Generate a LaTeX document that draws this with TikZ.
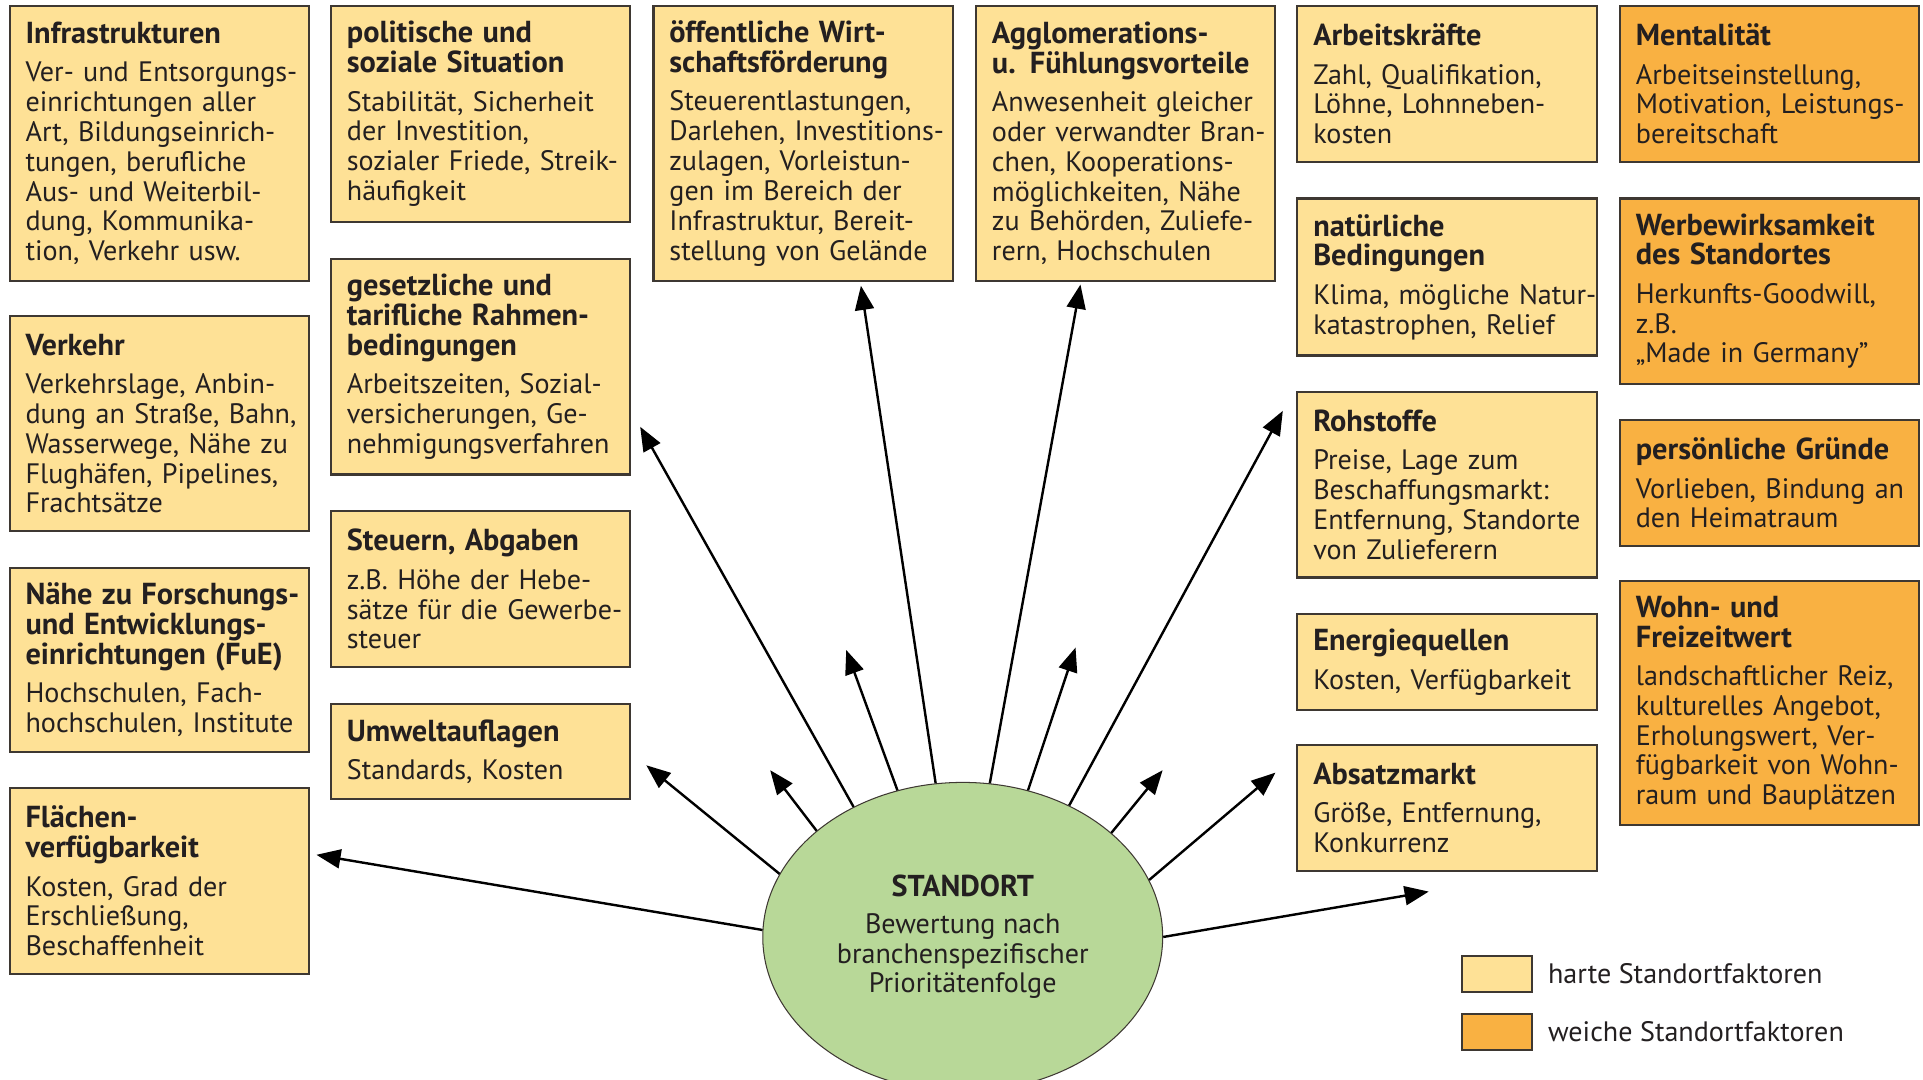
\documentclass[tikz,border=0pt]{standalone}
\usepackage{fontspec}
\setmainfont{PT Sans}
\usetikzlibrary{arrows.meta,shapes.geometric}
\definecolor{hardfill}{RGB}{254,225,150}
\definecolor{softfill}{RGB}{249,177,66}
\definecolor{stdgreen}{RGB}{184,216,152}
\definecolor{boxline}{RGB}{62,56,50}
\definecolor{inktext}{RGB}{35,31,32}

\begin{document}
\begin{tikzpicture}[x=0.025cm,y=-0.025cm,>=Triangle,
  font=\fontsize{16.3}{17.3}\selectfont,text=inktext]

% canvas
\clip (0,0) rectangle (1568,880);
\fill[white] (0,0) rectangle (1568,880);

\tikzset{
  factor/.style={
    draw=boxline,
    line width=1.2pt,
    anchor=north west,
    minimum width=6.1cm,
    text width=5.45cm,
    inner xsep=0.325cm,
    inner ysep=0pt,
    align=left,
    execute at begin node={\rightskip=0pt plus 1fil minus 3cm\relax}
  },
  hard/.style={factor, fill=hardfill},
  soft/.style={factor, fill=softfill},
  keybox/.style={
    draw=boxline,
    line width=1.2pt,
    anchor=north west,
    minimum width=1.425cm,
    minimum height=0.725cm,
    inner sep=0pt
  },
  spoke/.style={
    draw=black,
    line width=1.4pt,
    -{Triangle[length=14pt,width=11pt]}
  }
}

% column 1
\node[hard, minimum height=5.6cm] (infra) at (7,4)
  {{\bfseries\fontsize{17.6}{17.3}\selectfont Infrastrukturen}\\[5pt]
   Ver- und Entsorgungs-\\einrichtungen aller\\Art, Bildungseinrich-\\tungen, berufliche\\
   Aus- und Weiterbil-\\dung, Kommunika-\\tion, Verkehr usw.};

\node[hard, minimum height=4.375cm] (verk) at (7,257)
  {{\bfseries\fontsize{17.6}{17.3}\selectfont Verkehr}\\[5pt]
   Verkehrslage, Anbin-\\dung an Straße, Bahn,\\Wasserwege, Nähe zu\\Flughäfen, Pipelines,\\Frachtsätze};

\node[hard, minimum height=3.75cm] (fue) at (7,462)
  {{\bfseries\fontsize{17.6}{17.3}\selectfont Nähe zu Forschungs-\\und Entwicklungs-\\einrichtungen (FuE)}\\[5pt]
   Hochschulen, Fach-\\hochschulen, Institute};

\node[hard, minimum height=3.775cm] (flae) at (7,642)
  {{\bfseries\fontsize{17.6}{17.3}\selectfont Flächen-\\verfügbarkeit}\\[5pt]
   Kosten, Grad der\\Erschließung,\\Beschaffenheit};

% column 2
\node[hard, minimum height=4.4cm] (pol) at (269,4)
  {{\bfseries\fontsize{17.6}{17.3}\selectfont politische und\\soziale Situation}\\[5pt]
   Stabilität, Sicherheit\\der Investition,\\sozialer Friede, Streik-\\häufigkeit};

\node[hard, minimum height=4.4cm] (ges) at (269,210)
  {{\bfseries\fontsize{17.6}{17.3}\selectfont gesetzliche und\\tarifliche Rahmen-\\bedingungen}\\[5pt]
   Arbeitszeiten, Sozial-\\versicherungen, Ge-\\nehmigungsverfahren};

\node[hard, minimum height=3.175cm] (steu) at (269,416)
  {{\bfseries\fontsize{17.6}{17.3}\selectfont Steuern, Abgaben}\\[5pt]
   z.B. Höhe der Hebe-\\sätze für die Gewerbe-\\steuer};

\node[hard, minimum height=1.95cm] (umw) at (269,573)
  {{\bfseries\fontsize{17.6}{17.3}\selectfont Umweltauflagen}\\[5pt]
   Standards, Kosten};

% columns 3 and 4
\node[hard, minimum height=5.6cm] (oeff) at (532,4)
  {{\bfseries\fontsize{17.6}{17.3}\selectfont öffentliche Wirt-\\schaftsförderung}\\[5pt]
   Steuerentlastungen,\\Darlehen, Investitions-\\zulagen, Vorleistun-\\gen im Bereich der\\
   Infrastruktur, Bereit-\\stellung von Gelände};

\node[hard, minimum height=5.6cm] (aggl) at (795,4)
  {{\bfseries\fontsize{17.6}{17.3}\selectfont Agglomerations-\\u. Fühlungsvorteile}\\[5pt]
   Anwesenheit gleicher\\oder verwandter Bran-\\chen, Kooperations-\\möglichkeiten, Nähe\\
   zu Behörden, Zuliefe-\\rern, Hochschulen};

% column 5
\node[hard, minimum height=3.175cm] (arb) at (1057,4)
  {{\bfseries\fontsize{17.6}{17.3}\selectfont Arbeitskräfte}\\[5pt]
   Zahl, Qualifikation,\\Löhne, Lohnneben-\\kosten};

\node[hard, minimum height=3.2cm] (nat) at (1057,161)
  {{\bfseries\fontsize{17.6}{17.3}\selectfont natürliche\\Bedingungen}\\[5pt]
   Klima, mögliche Natur-\\katastrophen, Relief};

\node[hard, minimum height=3.775cm] (roh) at (1057,319)
  {{\bfseries\fontsize{17.6}{17.3}\selectfont Rohstoffe}\\[5pt]
   Preise, Lage zum\\Beschaffungsmarkt:\\Entfernung, Standorte\\von Zulieferern};

\node[hard, minimum height=1.95cm] (ener) at (1057,500)
  {{\bfseries\fontsize{17.6}{17.3}\selectfont Energiequellen}\\[5pt]
   Kosten, Verfügbarkeit};

\node[hard, minimum height=2.55cm] (abs) at (1057,607)
  {{\bfseries\fontsize{17.6}{17.3}\selectfont Absatzmarkt}\\[5pt]
   Größe, Entfernung,\\Konkurrenz};

% column 6 (soft factors)
\node[soft, minimum height=3.175cm] (ment) at (1320,4)
  {{\bfseries\fontsize{17.6}{17.3}\selectfont Mentalität}\\[5pt]
   Arbeitseinstellung,\\Motivation, Leistungs-\\bereitschaft};

\node[soft, minimum height=3.775cm] (werb) at (1320,161)
  {{\bfseries\fontsize{17.6}{17.3}\selectfont Werbewirksamkeit\\des Standortes}\\[5pt]
   Herkunfts-Goodwill,\\z.B.\\„Made in Germany”};

\node[soft, minimum height=2.55cm] (pers) at (1320,342)
  {{\bfseries\fontsize{17.6}{17.3}\selectfont persönliche Gründe}\\[5pt]
   Vorlieben, Bindung an\\den Heimatraum};

\node[soft, minimum height=4.975cm] (wohn) at (1320,473)
  {{\bfseries\fontsize{17.6}{17.3}\selectfont Wohn- und\\Freizeitwert}\\[5pt]
   landschaftlicher Reiz,\\kulturelles Angebot,\\Erholungswert, Ver-\\
   fügbarkeit von Wohn-\\raum und Bauplätzen};

% location
\node[ellipse, draw=boxline, line width=0.6pt, fill=stdgreen,
  minimum width=8.15cm, minimum height=6.3cm, inner sep=0pt, align=center]
  (std) at (785,764)
  {{\bfseries\fontsize{17.5}{17.3}\selectfont STANDORT}\\[4pt]
   Bewertung nach\\branchenspezifischer\\Prioritätenfolge};

% arrow ends
\coordinate (t1) at (258,697);
\coordinate (t2) at (527,624);
\coordinate (t3) at (628,628);
\coordinate (t4) at (522,348);
\coordinate (t5) at (690,530);
\coordinate (t6) at (702,233);
\coordinate (t7) at (881,232);
\coordinate (t8) at (877,528);
\coordinate (t9) at (1046,335);
\coordinate (t10) at (948,628);
\coordinate (t11) at (1040,630);
\coordinate (t12) at (1165,727);

% spokes
\foreach \a/\t in {178/t1,161/t2,144/t3,130/t4,114/t5,100/t6,
                   80/t7,66/t8,51/t9,35/t10,17/t11,0/t12}{
  \draw[spoke] (std.\a) -- (\t);
}

% legend
\node[keybox, fill=hardfill] (keyhard) at (1191,779) {};
\node[keybox, fill=softfill] (keysoft) at (1191,826) {};
\node[anchor=west, inner sep=0pt] (keyhardtxt) at (1262,794) {harte Standortfaktoren};
\node[anchor=west, inner sep=0pt] (keysofttxt) at (1262,841) {weiche Standortfaktoren};

\end{tikzpicture}
\end{document}
